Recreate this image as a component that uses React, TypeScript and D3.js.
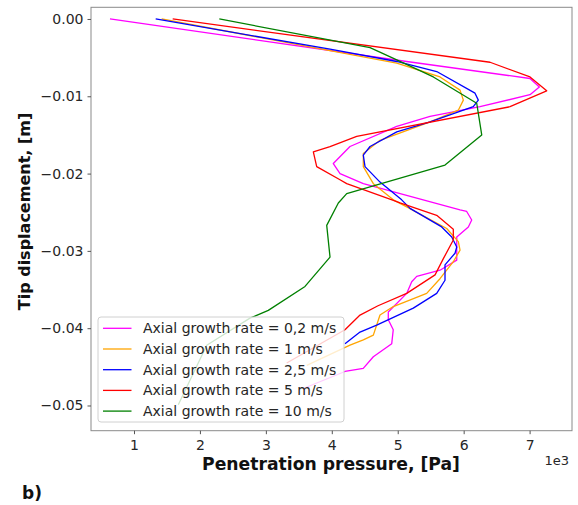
import { useEffect, useRef } from "react";
import * as d3 from "d3";

// penetration pressure [Pa] vs tip displacement [m]
const rate02X = [636, 5136, 7006, 7148, 7006, 6248, 5490, 4985, 4276, 4023, 4125, 4478, 5945, 6046, 6122, 6071, 5895, 5895, 5641, 5288, 5212, 5136, 4857, 4857, 4932, 4909, 4630, 4477, 4200, 3568];
const rate02Y = [0, -0.0055, -0.0077, -0.0088, -0.0098, -0.01135, -0.0126, -0.0139, -0.0165, -0.0187, -0.02, -0.0213, -0.0247, -0.0249, -0.026, -0.0269, -0.0282, -0.0312, -0.0325, -0.0333, -0.034, -0.0355, -0.0379, -0.0389, -0.0402, -0.042, -0.0437, -0.0452, -0.0456, -0.0478];

const rate1X = [1420, 3973, 4985, 5641, 5945, 5995, 5919, 5490, 4731, 4478, 4478, 4630, 4933, 5136, 5743, 5919, 5945, 5843, 5641, 5439, 4933, 4731, 4630, 4478, 4276, 3620];
const rate1Y = [0, -0.0041, -0.0057, -0.0075, -0.0092, -0.0105, -0.0118, -0.0133, -0.0157, -0.0174, -0.0191, -0.0213, -0.0234, -0.0243, -0.0271, -0.0288, -0.0299, -0.0314, -0.0336, -0.0355, -0.0372, -0.0383, -0.0409, -0.0415, -0.0422, -0.0448];

const rate25X = [1329, 3973, 4985, 5591, 6172, 6222, 6146, 5490, 4985, 4580, 4478, 4504, 4731, 5060, 5186, 5667, 5819, 5895, 5869, 5717, 5717, 5591, 5236, 4681, 4428, 4200];
const rate25Y = [0, -0.0039, -0.0055, -0.0068, -0.0096, -0.0105, -0.01135, -0.0133, -0.0146, -0.0165, -0.0176, -0.0191, -0.0211, -0.0234, -0.0245, -0.0269, -0.0282, -0.0295, -0.0303, -0.0318, -0.0338, -0.0355, -0.0374, -0.0396, -0.0405, -0.042];

const rate5X = [1587, 6400, 7006, 7259, 6703, 4378, 3973, 3720, 3771, 4124, 4226, 4913, 5035, 5591, 5843, 5843, 5692, 5566, 5136, 4701, 4428, 4200, 3316];
const rate5Y = [0, -0.0056, -0.0075, -0.0093, -0.01135, -0.0152, -0.0165, -0.0172, -0.0191, -0.0208, -0.0213, -0.0234, -0.0238, -0.0254, -0.0272, -0.0286, -0.031, -0.0331, -0.0355, -0.0371, -0.0383, -0.0402, -0.0445];

const rate10X = [2294, 4580, 4985, 5540, 6198, 6274, 5717, 4226, 4099, 3923, 3973, 3594, 3037, 2759, 2103, 1672];
const rate10Y = [0, -0.0037, -0.0053, -0.0075, -0.0109, -0.015, -0.0189, -0.0226, -0.0238, -0.0267, -0.0308, -0.0346, -0.0377, -0.0387, -0.0422, -0.0499];

const seriesNames = ["Axial growth rate = 0,2 m/s", "Axial growth rate = 1 m/s", "Axial growth rate = 2,5 m/s", "Axial growth rate = 5 m/s", "Axial growth rate = 10 m/s"];
const seriesColors = ["#ff00ff", "#ffa500", "#0000ff", "#ff0000", "#008000"];
const seriesX = [rate02X, rate1X, rate25X, rate5X, rate10X];
const seriesY = [rate02Y, rate1Y, rate25Y, rate5Y, rate10Y];

const xTicks = [1000, 2000, 3000, 4000, 5000, 6000, 7000];
const yTicks = [0, -0.01, -0.02, -0.03, -0.04, -0.05];

const FONT = "DejaVu Sans, sans-serif";

export default function App() {
    const svgRef = useRef(null);

    useEffect(() => {
        const svg = d3.select(svgRef.current);
        svg.selectAll("*").remove();

        const left = 91, right = 572, top = 7.3, bottom = 430.7;

        const xScale = d3.scaleLinear().domain([348, 7643]).range([left, right]);
        const yScale = d3.scaleLinear().domain([0.00151, -0.05326]).range([top, bottom]);

        svg.append("rect").attr("width", 578).attr("height", 505).attr("fill", "#fff");

        // curves
        const line = d3.line<[number, number]>()
            .x(d => xScale(d[0]))
            .y(d => yScale(d[1]));

        seriesX.forEach((xs, i) => {
            const pts: [number, number][] = xs.map((x, j) => [x, seriesY[i][j]]);
            svg.append("path")
                .attr("d", line(pts))
                .attr("fill", "none")
                .attr("stroke", seriesColors[i])
                .attr("stroke-width", 1.3)
                .attr("stroke-linejoin", "round");
        });

        // frame
        svg.append("rect")
            .attr("x", left).attr("y", top)
            .attr("width", right - left).attr("height", bottom - top)
            .attr("fill", "none").attr("stroke", "#8a8a8a").attr("stroke-width", 1);

        const xAxis = svg.append("g")
            .attr("transform", `translate(0,${bottom})`)
            .call(d3.axisBottom(xScale).tickValues(xTicks).tickSize(3.5).tickPadding(5.5).tickFormat(d => String(+d / 1000)));
        const yAxis = svg.append("g")
            .attr("transform", `translate(${left},0)`)
            .call(d3.axisLeft(yScale).tickValues(yTicks).tickSize(3.5).tickPadding(4).tickFormat(d => d3.format(".2f")(+d).replace("-", "\u2212")));

        [xAxis, yAxis].forEach(ax => {
            ax.select(".domain").remove();
            ax.selectAll("line").attr("stroke", "#555");
            ax.selectAll("text").attr("font-family", FONT).attr("font-size", 14).attr("fill", "#262626");
        });

        // legend
        const lg = svg.append("g");
        lg.append("rect")
            .attr("x", 98).attr("y", 317).attr("width", 246).attr("height", 105)
            .attr("rx", 3)
            .attr("fill", "#fff").attr("fill-opacity", 0.8)
            .attr("stroke", "#d0d0d0").attr("stroke-width", 1);
        seriesNames.forEach((name, i) => {
            const cy = 328.3 + i * 20.7;
            lg.append("line")
                .attr("x1", 103).attr("x2", 131.5).attr("y1", cy).attr("y2", cy)
                .attr("stroke", seriesColors[i]).attr("stroke-width", 1.3);
            lg.append("text")
                .attr("x", 143).attr("y", cy).attr("dy", "0.36em")
                .attr("font-family", FONT).attr("font-size", 14).attr("fill", "#262626")
                .text(name);
        });

        // labels
        svg.append("text")
            .attr("x", 331).attr("y", 470)
            .attr("text-anchor", "middle")
            .attr("font-family", FONT).attr("font-size", 17.2).attr("font-weight", "bold").attr("fill", "#111")
            .text("Penetration pressure, [Pa]");
        svg.append("text")
            .attr("transform", `translate(29.5,211.5) rotate(-90)`)
            .attr("text-anchor", "middle")
            .attr("font-family", FONT).attr("font-size", 16).attr("font-weight", "bold").attr("fill", "#111")
            .text("Tip displacement, [m]");
        svg.append("text")
            .attr("x", 569).attr("y", 465)
            .attr("text-anchor", "end")
            .attr("font-family", FONT).attr("font-size", 13).attr("fill", "#262626")
            .text("1e3");
        svg.append("text")
            .attr("x", 22).attr("y", 499)
            .attr("font-family", FONT).attr("font-size", 17).attr("font-weight", "bold").attr("fill", "#111")
            .text("b)");
    }, []);

    return (
        <svg ref={svgRef} width={578} height={505}
            style={{ position: "absolute", left: 0, top: 0, display: "block" }} />
    );
}
